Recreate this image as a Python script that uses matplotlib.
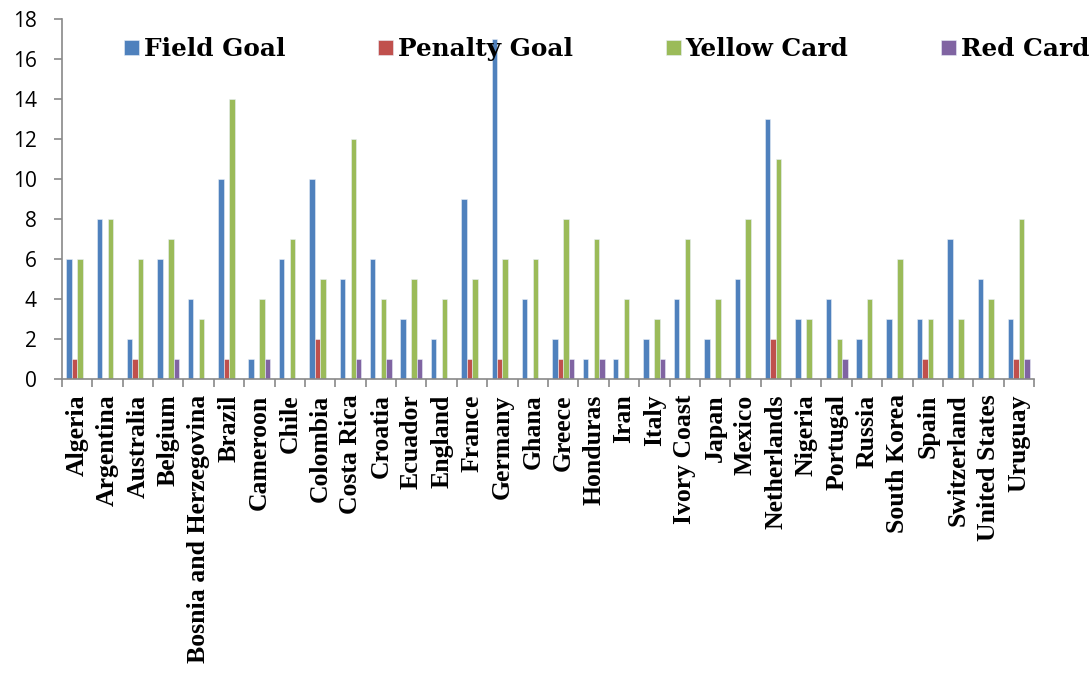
import numpy as np
import matplotlib
matplotlib.use("Agg")
import matplotlib.pyplot as plt

countries = ["Algeria", "Argentina", "Australia", "Belgium", "Bosnia and Herzegovina",
             "Brazil", "Cameroon", "Chile", "Colombia", "Costa Rica", "Croatia",
             "Ecuador", "England", "France", "Germany", "Ghana", "Greece", "Honduras",
             "Iran", "Italy", "Ivory Coast", "Japan", "Mexico", "Netherlands",
             "Nigeria", "Portugal", "Russia", "South Korea", "Spain", "Switzerland",
             "United States", "Uruguay"]

field_goal = [6, 8, 2, 6, 4, 10, 1, 6, 10, 5, 6, 3, 2, 9, 17, 4,
              2, 1, 1, 2, 4, 2, 5, 13, 3, 4, 2, 3, 3, 7, 5, 3]
penalty_goal = [1, 0, 1, 0, 0, 1, 0, 0, 2, 0, 0, 0, 0, 1, 1, 0,
                1, 0, 0, 0, 0, 0, 0, 2, 0, 0, 0, 0, 1, 0, 0, 1]
yellow_card = [6, 8, 6, 7, 3, 14, 4, 7, 5, 12, 4, 5, 4, 5, 6, 6,
               8, 7, 4, 3, 7, 4, 8, 11, 3, 2, 4, 6, 3, 3, 4, 8]
red_card = [0, 0, 0, 1, 0, 0, 1, 0, 0, 1, 1, 1, 0, 0, 0, 0,
            1, 1, 0, 1, 0, 0, 0, 0, 0, 1, 0, 0, 0, 0, 0, 1]

series = [("Field Goal", field_goal, "#4F81BD"),
          ("Penalty Goal", penalty_goal, "#C0504D"),
          ("Yellow Card", yellow_card, "#9BBB59"),
          ("Red Card", red_card, "#8064A2")]

fig = plt.figure(figsize=(10.91, 6.73), dpi=100)
ax = fig.add_axes([0.0568, 0.4368, 0.891, 0.535])

x = np.arange(len(countries))
w = 0.18
for i, (name, vals, col) in enumerate(series):
    ax.bar(x + (i - 1.5) * w, vals, w, color=col, edgecolor="#e8eef7",
           linewidth=0.4, label=name, zorder=1)

ax.set_xlim(-0.5, len(countries) - 0.5)
ax.set_ylim(0, 18)
ax.set_yticks(range(0, 19, 2))

spine_col = "#898989"
for s in ["top", "right"]:
    ax.spines[s].set_visible(False)
for s in ["left", "bottom"]:
    ax.spines[s].set_color(spine_col)
    ax.spines[s].set_linewidth(1.2)

ax.tick_params(axis="y", direction="out", length=6, width=1.2, color=spine_col,
               pad=12, labelsize=15)
for t in ax.get_yticklabels():
    t.set_fontfamily("Open Sans")

# category boundary ticks on x, labels at centres
ax.set_xticks(np.arange(-0.5, len(countries), 1.0))
ax.set_xticklabels([])
ax.tick_params(axis="x", which="major", direction="out", length=6, width=1.2,
               color=spine_col)
ax.set_xticks(x, minor=True)
ax.set_xticklabels(countries, minor=True, rotation=90, ha="center", va="top",
                   fontfamily="Liberation Serif", fontweight="bold", fontsize=18.5)
ax.tick_params(axis="x", which="minor", length=0, pad=11)

leg = fig.legend(loc="center left", bbox_to_anchor=(0.114, 0.927), ncol=4,
                 frameon=False, handlelength=0.6, handleheight=0.6,
                 handletextpad=0.2, columnspacing=3.75, borderpad=0, borderaxespad=0,
                 prop={"family": "DejaVu Serif", "weight": "bold", "size": 17.8})
leg.set_zorder(5)

fig.savefig("out.png", dpi=100)
